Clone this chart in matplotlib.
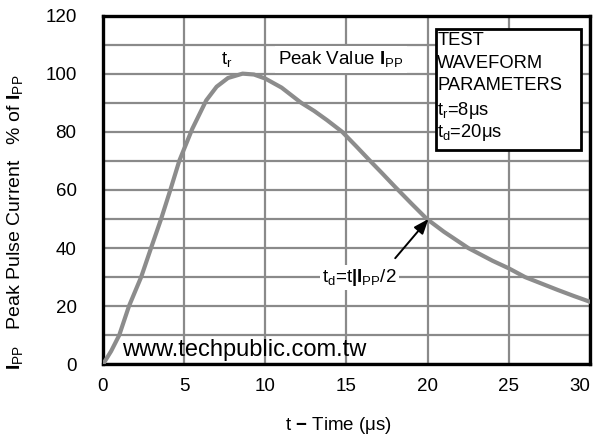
import matplotlib
matplotlib.use("Agg")
import matplotlib.pyplot as plt
from matplotlib.patches import Rectangle

plt.rcParams['font.family'] = ['Liberation Sans', 'DejaVu Sans']
plt.rcParams['mathtext.fontset'] = 'custom'
plt.rcParams['mathtext.rm'] = 'Liberation Sans'
plt.rcParams['mathtext.it'] = 'Liberation Sans:italic'
plt.rcParams['mathtext.bf'] = 'Liberation Sans:bold'

# data
time_us = [0, 0.5, 1.0, 1.6, 2.35, 2.96, 3.58, 4.15, 4.7, 5.5, 6.36, 7.0, 7.7, 8.6,
           9.3, 10.0, 11.0, 12.2, 13.0, 13.8, 14.73, 15.6, 16.4, 17.2, 18.0, 19.0, 19.95,
           21.0, 22.5, 24.0, 25.0, 26.0, 27.0, 28.0, 29.0, 30.0]
pct_ipp = [0, 4.5, 10, 20, 30, 40, 50, 60, 70, 81, 90.8, 95.5, 98.5, 100,
           99.7, 98.3, 95.2, 90, 87.2, 84.0, 80, 75.0, 70.3, 65.7, 61.0, 55.3, 50,
           45.6, 40, 35.6, 33, 30, 27.8, 25.6, 23.5, 21.5]

x_ticks = [0, 5, 10, 15, 20, 25, 30]
y_ticks = [0, 20, 40, 60, 80, 100, 120]
y_minor = [10, 30, 50, 70, 90, 110]
legend_lines = ["TEST", "WAVEFORM", "PARAMETERS",
                r"t$_\mathregular{r}$=8μs", r"t$_\mathregular{d}$=20μs"]

fig = plt.figure(figsize=(5.97, 4.38), dpi=100)
ax = fig.add_axes([0.1725, 0.1683, 0.8158, 0.7963])

grid_c = '#8a8a8a'
ax.set_xlim(0, 30)
ax.set_ylim(0, 120)
ax.set_xticks(x_ticks)
ax.set_yticks(y_ticks)
ax.set_yticks(y_minor, minor=True)
ax.grid(True, which='both', color=grid_c, linewidth=1.6)
ax.set_axisbelow(True)
ax.tick_params(which='both', length=0)
ax.tick_params(axis='x', pad=10, labelsize=13.5)
ax.tick_params(axis='y', pad=19, labelsize=13.5)
ax.get_xticklabels()[-1].set_horizontalalignment('right')
for s in ax.spines.values():
    s.set_linewidth(2.4)
    s.set_color('black')

ax.plot(time_us, pct_ipp, color='#8c8c8c', linewidth=3.0, solid_capstyle='round',
        solid_joinstyle='round', zorder=3)

# Labels on plot
ax.text(7.3, 105, r"t$_\mathregular{r}$", fontsize=13.5, ha='left', va='center', zorder=4)
ax.text(10.8, 105, r"Peak Value $\mathbf{I}_\mathregular{PP}$", fontsize=13.5, ha='left', va='center',
        zorder=4, bbox=dict(facecolor='white', edgecolor='none', pad=2.5))

ax.text(13.5, 30, r"t$_\mathregular{d}$=t$\mathbf{|}$$\mathbf{I}_\mathregular{PP}$/2", fontsize=13.5,
        ha='left', va='center', zorder=4, bbox=dict(facecolor='white', edgecolor='none', pad=1.5))
ax.annotate("", xy=(20.05, 50.0), xytext=(18.0, 36.5),
            arrowprops=dict(arrowstyle='-|>,head_length=0.9,head_width=0.35', color='black', lw=1.4,
                            shrinkA=0, shrinkB=0), zorder=5)

# parameter box
ax.add_patch(Rectangle((20.5, 73.6), 8.97, 41.6, facecolor='white', edgecolor='black',
                       linewidth=2.0, zorder=4))
line_vals = [111.5, 103.6, 96.0, 87.4, 79.8]
for txt, yv in zip(legend_lines, line_vals):
    ax.text(20.6, yv, txt, fontsize=13.2, ha='left', va='center', zorder=5)

ax.text(1.15, 5, "www.techpublic.com.tw", fontsize=17, ha='left', va='center', zorder=4)

fig.text(15/597, 1-222/438,
         r"$\mathbf{I}_\mathregular{PP}$   Peak Pulse Current   % of $\mathbf{I}_\mathregular{PP}$",
         rotation=90, ha='center', va='center', fontsize=14)
fig.text(338/597, 1-425/438, r"t $\mathbf{-}$ Time (μs)", ha='center', va='center', fontsize=13.5)

fig.savefig("out.png", dpi=100)
